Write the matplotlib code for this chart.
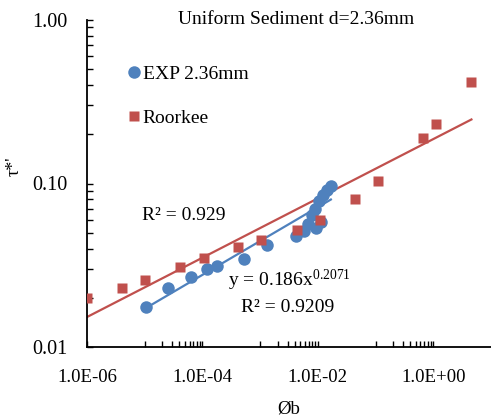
"""
Uniform sediment d=2.36mm: tau*' against phi_b on log-log axes,
experiment points with power trend and Roorkee points with power trend.
"""
import matplotlib
matplotlib.use('Agg')
import matplotlib.pyplot as plt
from matplotlib.ticker import FixedLocator, NullFormatter
import numpy as np

# data
exp_phi = [1.05e-5, 2.53e-5, 6.44e-5, 1.21e-4, 1.80e-4, 5.23e-4, 1.33e-3,
           4.14e-3, 5.71e-3, 6.70e-3, 7.87e-3, 8.87e-3, 9.23e-3, 1.13e-2,
           1.04e-2, 1.22e-2, 1.44e-2, 1.68e-2]
exp_tau = [0.0175, 0.0229, 0.0267, 0.0299, 0.0314, 0.0344, 0.0419,
           0.0477, 0.0512, 0.0565, 0.0641, 0.0698, 0.0535, 0.0581,
           0.0782, 0.0851, 0.0912, 0.0965]

roorkee_phi = [1.0e-6, 4.0e-6, 1.02e-5, 4.14e-5, 1.05e-4, 4.11e-4, 1.05e-3,
               4.31e-3, 1.08e-2, 4.40e-2, 0.109, 0.662, 1.13, 4.58]
roorkee_tau = [0.0200, 0.0231, 0.0257, 0.0310, 0.0349, 0.0411, 0.0451,
               0.0519, 0.0598, 0.080, 0.104, 0.189, 0.231, 0.418]

# trend line of the experiment, as printed on the chart
exp_coef = 0.186
exp_power = 0.2071

x_ticks = [1e-6, 1e-4, 1e-2, 1e0]
x_ticklabels = ['1.0E-06', '1.0E-04', '1.0E-02', '1.0E+00']
y_ticks = [0.01, 0.1, 1.0]
y_ticklabels = ['0.01', '0.10', '1.00']

blue = '#4F81BD'
red = '#C0504D'

plt.rcParams['font.family'] = ['Liberation Serif', 'DejaVu Serif']
plt.rcParams['mathtext.fontset'] = 'custom'
plt.rcParams['mathtext.rm'] = 'Liberation Serif'
plt.rcParams['font.size'] = 14

plt_dpi = 100
fig = plt.figure(figsize=(4.91, 4.17), dpi=plt_dpi)
ax = fig.add_axes([87 / 491, 1 - 347 / 417, 404 / 491, 327 / 417])

# power trend lines
exp_x = np.array([min(exp_phi), max(exp_phi)])
ax.plot(exp_x, exp_coef * exp_x ** exp_power, color=blue, lw=1.6, zorder=2)

r_b, r_a = np.polyfit(np.log10(roorkee_phi), np.log10(roorkee_tau), 1)
r_x = np.array([min(roorkee_phi), max(roorkee_phi)])
ax.plot(r_x, 10 ** r_a * r_x ** r_b, color=red, lw=1.6, zorder=2)

ax.plot(exp_phi, exp_tau, 'o', color=blue, ms=9, mec='none',
        label='EXP 2.36mm', zorder=3)
ax.plot(roorkee_phi, roorkee_tau, 's', color=red, ms=7.5, mec='none',
        label='Roorkee', zorder=4)

ax.set_xscale('log')
ax.set_yscale('log')
ax.set_xlim(1e-6, 1e1)
ax.set_ylim(0.01, 1.0)

for side in ['top', 'right']:
    ax.spines[side].set_visible(False)
for side in ['left', 'bottom']:
    ax.spines[side].set_linewidth(1.3)

ax.set_xticks(x_ticks)
ax.set_xticklabels(x_ticklabels)
ax.set_yticks(y_ticks)
ax.set_yticklabels(y_ticklabels)

x_minor = [k * 10.0 ** n for n in (-5, -3, -1) for k in range(1, 10)]
ax.xaxis.set_minor_locator(FixedLocator(x_minor))
ax.xaxis.set_minor_formatter(NullFormatter())
y_minor = [k * 10.0 ** n for n in (-2, -1) for k in range(2, 10)]
ax.yaxis.set_minor_locator(FixedLocator(y_minor))
ax.yaxis.set_minor_formatter(NullFormatter())

ax.tick_params(axis='both', which='both', direction='in', length=4, width=1,
               labelsize=13.5)
ax.tick_params(axis='x', which='major', pad=16)
ax.tick_params(axis='y', which='major', labelsize=14.5, pad=14)

ax.set_xlabel('Øb', fontsize=13.5, labelpad=10)
fig.text(14 / 491, 1 - 166 / 417, "τ*'", rotation=90, ha='center',
         va='center', fontsize=13)

ax.legend(loc='upper left', bbox_to_anchor=(0.08, 0.885), frameon=False,
          handlelength=0.7, handletextpad=0.1, labelspacing=1.35,
          borderaxespad=0, fontsize=14)

fig.text(296 / 491, 1 - 20 / 417, 'Uniform Sediment d=2.36mm',
         ha='center', va='center')
fig.text(142 / 491, 1 - 215 / 417, 'R² = 0.929', ha='left', va='center')
fig.text(228 / 491, 1 - 280 / 417,
         r'y = 0.186x$\mathregular{^{0.2071}}$', ha='left', va='center')
fig.text(241 / 491, 1 - 307 / 417, 'R² = 0.9209', ha='left', va='center')

plt.savefig('out.png', dpi=plt_dpi)
plt.close()
